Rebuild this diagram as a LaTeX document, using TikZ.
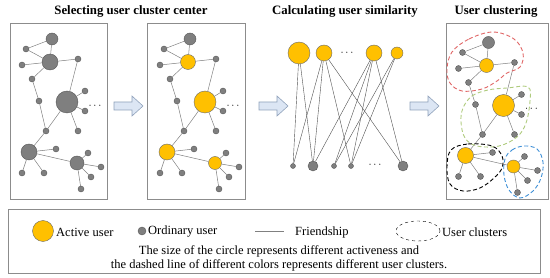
\documentclass[tikz,border=0pt]{standalone}
\usepackage{fontspec}
\setmainfont{Liberation Serif}
\definecolor{actfill}{HTML}{FFC000}
\definecolor{actline}{HTML}{6B6B6B}
\definecolor{ordfill}{HTML}{7F7F7F}
\definecolor{ordline}{HTML}{555555}
\definecolor{edgecol}{HTML}{808080}
\definecolor{linkcol}{HTML}{505050}
\definecolor{boxcol}{HTML}{8C8C8C}
\definecolor{arrfill}{HTML}{DCE6F4}
\definecolor{arrline}{HTML}{8FA1BA}
\definecolor{redclu}{HTML}{E06666}
\definecolor{greenclu}{HTML}{AFCB7E}
\definecolor{blueclu}{HTML}{3D8FD6}
\tikzset{
  ordinary/.style={circle, draw=ordline, fill=ordfill, inner sep=0pt, minimum size=6pt, line width=0.4pt},
  active/.style={circle, draw=actline, fill=actfill, inner sep=0pt, line width=0.4pt},
  friend/.style={draw=edgecol, line width=0.5pt},
  link/.style={draw=linkcol, line width=0.4pt},
  panel/.style={draw=boxcol, line width=0.7pt},
  cluster/.style={dash pattern=on 4pt off 2.5pt, line width=0.9pt},
  flow/.style={draw=arrline, fill=arrfill, line width=0.6pt},
  title/.style={font=\bfseries\fontsize{12.8}{14}\selectfont, anchor=base, inner sep=0pt},
  legend/.style={font=\fontsize{12.5}{14}\selectfont, inner sep=1pt},
  more/.style={font=\fontsize{11}{11}\selectfont, inner sep=0pt},
}
% one network of friends; the four hub styles are the arguments
\newcommand{\usernet}[4]{%
  \node[ordinary, minimum size=12pt] (A) at (52,39) {};
  \node[#1] (C) at (50,62) {};
  \node[#2] (G) at (67,102) {};
  \node[#3] (M) at (29,152) {};
  \node[#4] (Q) at (77,163) {};
  \foreach \n/\x/\y in {B/26/49, D/78/59, E/22/65, F/32/79, H/85/91, I/85/111,
      J/78/131, K/39/101, L/46/131, N/56/149, O/22/173, P/44/173,
      R/88/153, S/101/167, T/91/177, U/81/189}
    \node[ordinary] (\n) at (\x,\y) {};
  \foreach \a/\b in {A/B, A/C, B/C, C/D, C/E, C/F, D/G, F/K, K/L, G/L, G/H, G/I,
      G/J, L/M, M/N, M/O, M/P, M/Q, Q/R, Q/S, Q/T, Q/U}
    \draw[friend] (\a) -- (\b);
  \node[more] (dots) at (95,106) {$\cdots$};
}
\begin{document}
\begin{tikzpicture}[x=1pt, y=-1pt]
  \useasboundingbox (0,0) rectangle (550,278);

  % Titles
  \node[title] (tsel) at (131,15) {Selecting user cluster center};
  \node[title] (tsim) at (345,15) {Calculating user similarity};
  \node[title] (tclu) at (496,15) {User clustering};

  % Panels
  \draw[panel] (10,23) rectangle (107,199);
  \draw[panel] (147,23) rectangle (245,199);
  \draw[panel] (446,23) rectangle (548,199);

  \begin{scope}[name prefix=pa-]
    \usernet{ordinary, minimum size=16pt}{ordinary, minimum size=22pt}%
      {ordinary, minimum size=16pt}{ordinary, minimum size=14pt}
  \end{scope}

  \begin{scope}[shift={(138,0)}, name prefix=pb-]
    \usernet{active, minimum size=15pt}{active, minimum size=22pt}%
      {active, minimum size=16pt}{active, minimum size=13pt}
  \end{scope}

  \begin{scope}[shift={(436.5,3.5)}, name prefix=pd-]
    \usernet{active, minimum size=14pt}{active, minimum size=22pt}%
      {active, minimum size=16pt}{active, minimum size=13pt}
  \end{scope}

  % Similarity
  \foreach \n/\x/\s in {1/299/22pt, 2/324/16pt, 3/374/16pt, 4/397/12pt}
    \node[active, minimum size=\s] (act\n) at (\x,53) {};
  \foreach \n/\x/\s in {1/293/5pt, 2/313/10pt, 3/334/5pt, 4/351/5pt, 5/403/10pt}
    \node[ordinary, minimum size=\s] (ord\n) at (\x,166) {};
  \foreach \a/\b in {1/1, 1/2, 2/1, 2/2, 2/4, 2/5, 3/2, 3/3, 3/4, 3/5, 4/3, 4/4}
    \draw[link] (act\a) -- (ord\b);
  \node[more] (topdots) at (347,53) {$\cdots$};
  \node[more] (botdots) at (375,165) {$\cdots$};

  % Arrows
  \foreach \x in {114, 259, 410}
    \draw[flow] (\x,102) -- ++(18,0) -- ++(0,-6) -- ++(11,10) -- ++(-11,10)
      -- ++(0,-6) -- ++(-18,0) -- cycle;

  % Clusters
  \draw[cluster, redclu] plot[smooth cycle, tension=0.6] coordinates {
    (452,52) (469,39) (493,32) (514,39) (523,53) (520,67) (507,73) (497,81)
    (482,89) (462,91) (450,83) (447,69)};
  \draw[cluster, greenclu] plot[smooth cycle, tension=0.6] coordinates {
    (463,108) (472,96) (488,90) (507,88) (528,87) (530,101) (526,123) (517,137)
    (499,146) (477,146) (465,138) (461,122)};
  \draw[cluster, black] plot[smooth cycle, tension=0.6] coordinates {
    (451,150) (468,144) (492,146) (502,156) (502,168) (494,178) (480,188)
    (463,191) (450,184) (447,167)};
  \draw[cluster, blueclu] plot[smooth cycle, tension=0.6] coordinates {
    (505,159) (512,150) (524,146) (537,149) (543,162) (541,178) (533,191)
    (520,198) (509,190) (504,175)};

  % Legend
  \draw[panel] (8,209) rectangle (540,273);
  \node[active, minimum size=21pt] (lgact) at (43,231) {};
  \node[legend, anchor=west] (lgacttxt) at (55,232) {Active user};
  \node[ordinary, minimum size=8pt] (lgord) at (142,231) {};
  \node[legend, anchor=west] (lgordtxt) at (147,232) {Ordinary user};
  \draw[friend] (255,231) -- (284,231);
  \node[legend, anchor=west] (lgfritxt) at (294,232) {Friendship};
  \draw[dashed] (418,231) ellipse [x radius=22pt, y radius=10pt];
  \node[legend, anchor=west] (lgclutxt) at (441,232) {User clusters};
  \node[legend, align=center] (lgnote) at (279,258.5)
    {The size of the circle represents different activeness and\\
     the dashed line of different colors represents different user clusters.};
\end{tikzpicture}
\end{document}
